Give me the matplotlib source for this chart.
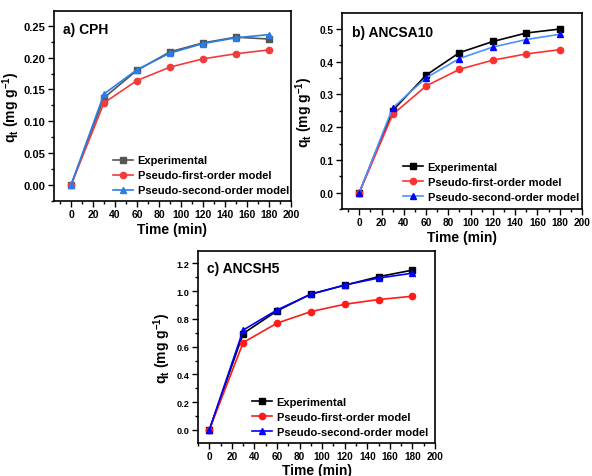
import matplotlib
matplotlib.use('Agg')
import matplotlib.pyplot as plt
from matplotlib.ticker import MultipleLocator

plt.rcParams['font.family'] = ['Liberation Sans', 'DejaVu Sans']
plt.rcParams['font.weight'] = 'bold'
plt.rcParams['mathtext.fontset'] = 'custom'
plt.rcParams['mathtext.rm'] = 'Liberation Sans:bold'
plt.rcParams['mathtext.it'] = 'Liberation Sans:bold'
plt.rcParams['mathtext.bf'] = 'Liberation Sans:bold'

time = [0, 30, 60, 90, 120, 150, 180]

# a) CPH
cph_exp = [0, 0.137, 0.180, 0.209, 0.223, 0.232, 0.229]
cph_pfo = [0, 0.129, 0.164, 0.185, 0.198, 0.206, 0.212]
cph_pso = [0, 0.143, 0.181, 0.207, 0.222, 0.231, 0.236]

# b) ANCSA10
a10_exp = [0, 0.251, 0.359, 0.428, 0.462, 0.488, 0.500]
a10_pfo = [0, 0.239, 0.326, 0.377, 0.405, 0.424, 0.437]
a10_pso = [0, 0.259, 0.351, 0.410, 0.445, 0.468, 0.484]

# c) ANCSH5
h5_exp = [0, 0.695, 0.858, 0.980, 1.043, 1.105, 1.152]
h5_pfo = [0, 0.630, 0.770, 0.853, 0.906, 0.940, 0.964]
h5_pso = [0, 0.720, 0.865, 0.978, 1.045, 1.095, 1.130]

labels = ['Experimental', 'Pseudo-first-order model', 'Pseudo-second-order model']

fig = plt.figure(figsize=(5.92, 4.77), dpi=100)

panels = [
    # rect, title, data, colors, ylim, ymajor, yfmt, xmin, title pos, legend anchor,
    # tick sizes, label pads
    ([0.0912, 0.5765, 0.4003, 0.3983], 'a) CPH', (cph_exp, cph_pfo, cph_pso),
     ('#555555', '#f03c3c', '#2a7de8', '#2a7de8'), (-0.025, 0.273), 0.05, '%.2f', -15.5,
     (0.038, 0.905), (0.191, 0.672), (7.5, 8), (2, 1)),
    ([0.5777, 0.5597, 0.4054, 0.4109], 'b) ANCSA10', (a10_exp, a10_pfo, a10_pso),
     ('#000000', '#ff3030', '#4a90ff', '#0000ff'), (-0.05, 0.549), 0.1, '%.1f', -15.5,
     (0.042, 0.903), (0.681, 0.658), (7.3, 7.3), (2, 3)),
    ([0.3345, 0.0692, 0.4003, 0.4025], 'c) ANCSH5', (h5_exp, h5_pfo, h5_pso),
     ('#000000', '#ff1a1a', '#0000ff', '#0000ff'), (-0.094, 1.29), 0.2, '%.1f', -10,
     (0.038, 0.911), (0.426, 0.165), (7.2, 6.6), (1, 3)),
]

for rect, title, data, cols, ylim, ymaj, yfmt, xmin, tpos, lpos, tsz, lpad in panels:
    ax = fig.add_axes(rect)
    exp, pfo, pso = data
    ax.plot(time, exp, '-s', color=cols[0], lw=1.2, ms=4.5, label=labels[0])
    ax.plot(time, pfo, '-o', color=cols[1], lw=1.2, ms=4.5, label=labels[1])
    ax.plot(time, pso, '-^', color=cols[2], mfc=cols[3], mec=cols[3], lw=1.2, ms=5,
            label=labels[2])
    ax.set_xlim(xmin, 200)
    ax.set_ylim(*ylim)
    ax.xaxis.set_major_locator(MultipleLocator(20))
    ax.xaxis.set_minor_locator(MultipleLocator(10))
    ax.yaxis.set_major_locator(MultipleLocator(ymaj))
    ax.yaxis.set_minor_locator(MultipleLocator(ymaj / 2))
    ax.yaxis.set_major_formatter(plt.FormatStrFormatter(yfmt))
    ax.tick_params(which='major', direction='out', length=4, width=1, pad=2)
    ax.tick_params(which='minor', direction='out', length=2, width=1)
    ax.tick_params(axis='x', labelsize=tsz[0])
    ax.tick_params(axis='y', labelsize=tsz[1])
    for s in ax.spines.values():
        s.set_linewidth(1.2)
    ax.set_xlabel('Time (min)', fontsize=10, fontweight='bold', labelpad=lpad[0])
    ax.set_ylabel(r'q$_t$ (mg g$^{-1}$)', fontsize=10, fontweight='bold', labelpad=lpad[1])
    ax.text(tpos[0], tpos[1], title, transform=ax.transAxes, fontsize=10,
            fontweight='bold', va='center', ha='left')
    ax.legend(loc='upper left', bbox_to_anchor=lpos, bbox_transform=fig.transFigure,
              frameon=False, borderpad=0, borderaxespad=0,
              handlelength=1.8, handletextpad=0.4, labelspacing=0.45,
              prop={'weight': 'bold', 'size': 8})

fig.savefig('out.png', dpi=100)
